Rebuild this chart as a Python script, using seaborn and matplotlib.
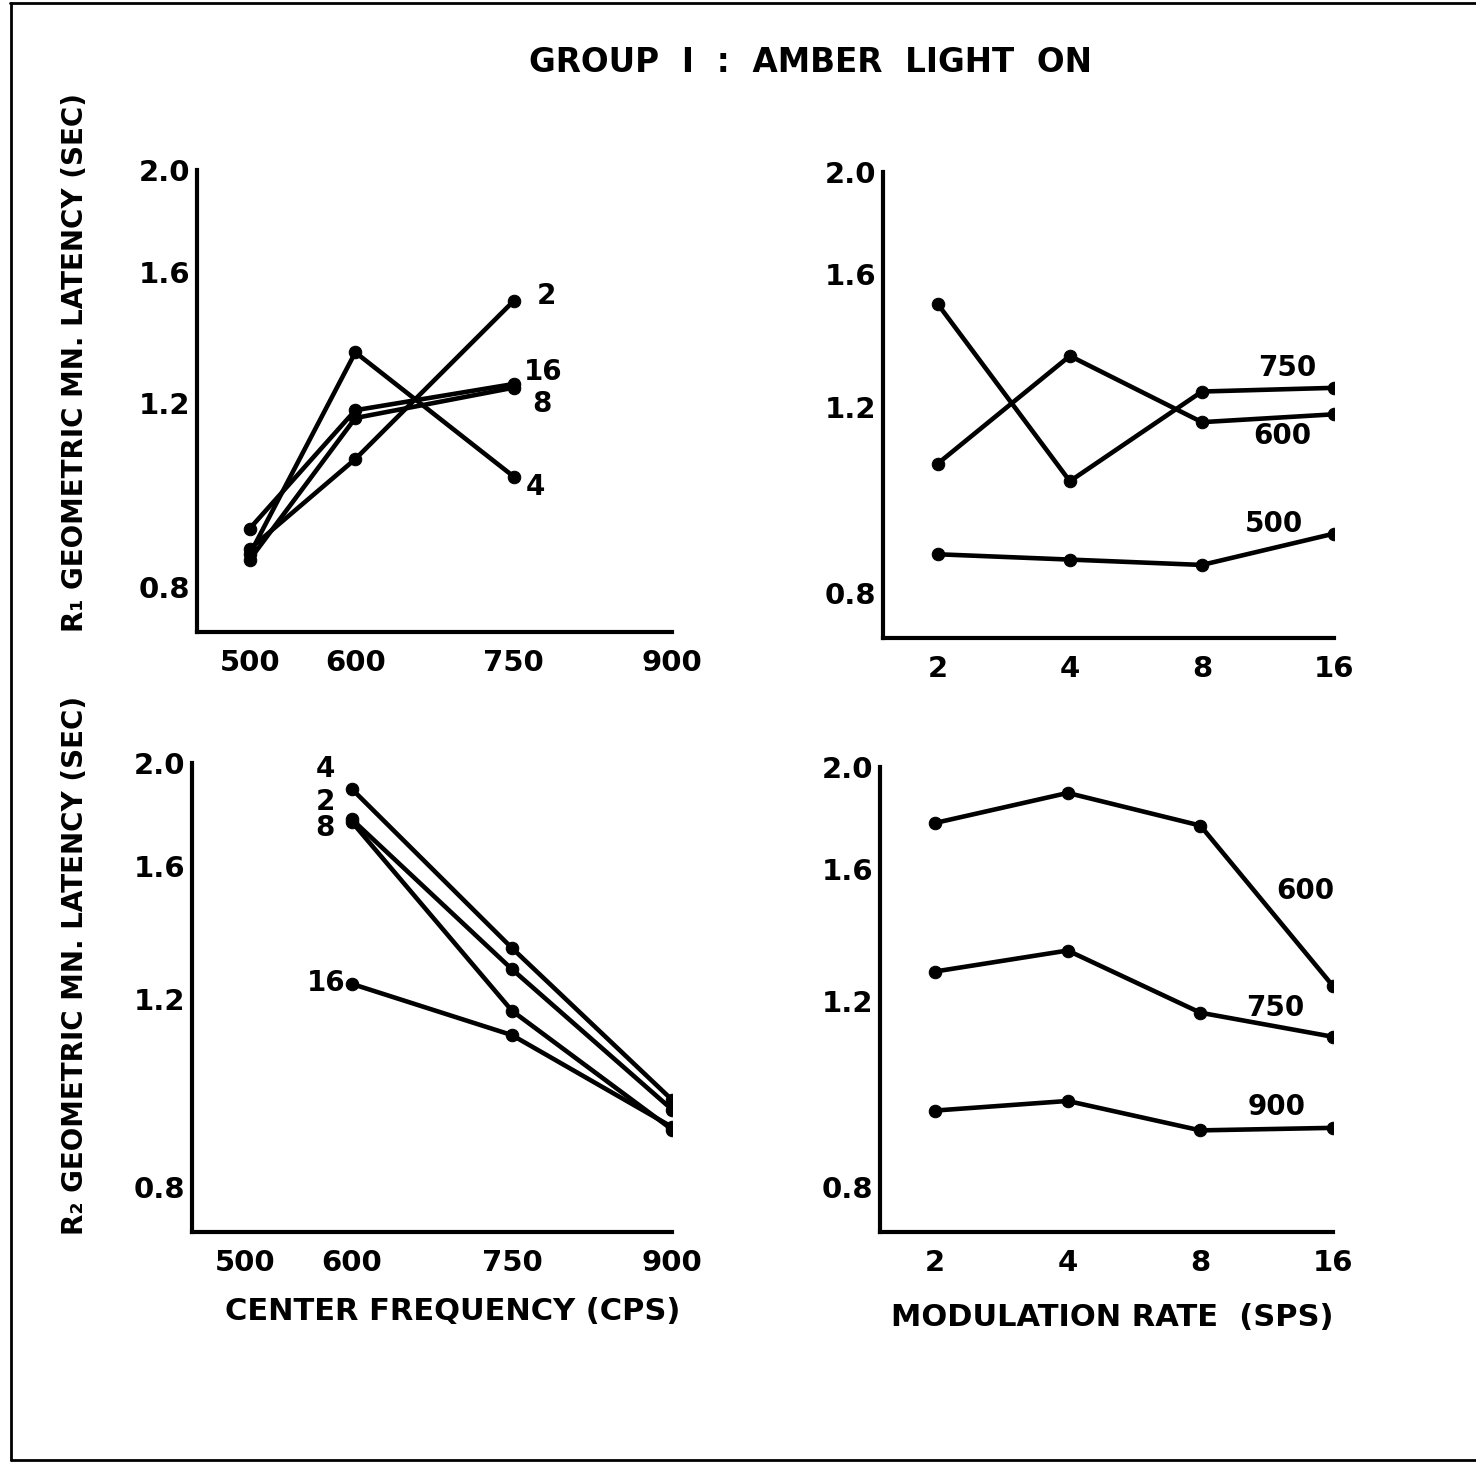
import numpy as np
import pandas as pd
import matplotlib
matplotlib.use("Agg")
import matplotlib.pyplot as plt
import seaborn as sns
from matplotlib.lines import Line2D
from matplotlib.ticker import NullLocator, FixedLocator, FixedFormatter

# ---------------- data ----------------
rates = [2, 4, 8, 16]
r1_freqs = [500, 600, 750]
r1_500 = [0.87, 0.86, 0.85, 0.91]
r1_600 = [1.06, 1.34, 1.16, 1.18]
r1_750 = [1.50, 1.02, 1.24, 1.25]

r2_freqs = [600, 750, 900]
r2_600 = [1.77, 1.89, 1.76, 1.24]
r2_750 = [1.28, 1.34, 1.17, 1.11]
r2_900 = [0.945, 0.965, 0.905, 0.91]

freq_ticks = [500, 600, 750, 900]
rate_ticks = [2, 4, 8, 16]
lat_ticks = [0.8, 1.2, 1.6, 2.0]
lat_labels = ["0.8", "1.2", "1.6", "2.0"]

title = "GROUP  I  :  AMBER  LIGHT  ON"
ylab1 = "R\u2081 GEOMETRIC MN. LATENCY (SEC)"
ylab2 = "R\u2082 GEOMETRIC MN. LATENCY (SEC)"
xlab_left = "CENTER FREQUENCY (CPS)"
xlab_right = "MODULATION RATE  (SPS)"


def long_df(freqs, series):
    rows = []
    for f, vals in zip(freqs, series):
        for r, v in zip(rates, vals):
            rows.append({"freq": f, "rate": r, "lat": v})
    return pd.DataFrame(rows)


df1 = long_df(r1_freqs, [r1_500, r1_600, r1_750])
df2 = long_df(r2_freqs, [r2_600, r2_750, r2_900])

# ---------------- style ----------------
sns.set_style("white")
plt.rcParams["font.family"] = ["DejaVu Sans"]
plt.rcParams["font.weight"] = "bold"
plt.rcParams["text.color"] = "black"
plt.rcParams["axes.labelcolor"] = "black"
plt.rcParams["xtick.color"] = "black"
plt.rcParams["ytick.color"] = "black"

W, H = 1476, 1464
fig = plt.figure(figsize=(W / 100, H / 100), dpi=100)
fig.patch.set_facecolor("white")


def box(l, t, r, b):
    return [l / W, 1 - b / H, (r - l) / W, (b - t) / H]


ax_tl = fig.add_axes(box(197, 170, 672, 632))
ax_tr = fig.add_axes(box(883, 172, 1334, 638))
ax_bl = fig.add_axes(box(192, 763, 672, 1232))
ax_br = fig.add_axes(box(880, 767, 1333, 1232))

LW = 3.3
MS = 9
TICKFS = 21
line_kws = dict(marker="o", markersize=MS, linewidth=LW, mec="black", mfc="black", legend=False)


def style_axis(ax):
    for s in ["top", "right"]:
        ax.spines[s].set_visible(False)
    for s in ["left", "bottom"]:
        ax.spines[s].set_linewidth(3)
        ax.spines[s].set_color("black")
    ax.set_yscale("log")
    ax.set_ylim(0.725, 2.0)
    ax.yaxis.set_major_locator(FixedLocator(lat_ticks))
    ax.yaxis.set_major_formatter(FixedFormatter(lat_labels))
    ax.yaxis.set_minor_locator(NullLocator())
    ax.tick_params(axis="both", direction="in", length=10, width=2.5, color="black",
                   labelsize=TICKFS, labelcolor="black")
    ax.tick_params(axis="y", pad=5)
    ax.tick_params(axis="x", pad=12)
    for lab in ax.get_xticklabels() + ax.get_yticklabels():
        lab.set_fontweight("bold")
    ax.set_xlabel("")
    ax.set_ylabel("")
    ax.set_facecolor("white")


# top-left: R1 vs frequency, one line per rate
sns.lineplot(data=df1, x="freq", y="lat", hue="rate", palette=["black"] * 4,
             ax=ax_tl, **line_kws)
ax_tl.set_xlim(450, 900)
style_axis(ax_tl)
ax_tl.set_xticks(freq_ticks)
ax_tl.set_xticklabels([str(v) for v in freq_ticks], fontweight="bold")

# top-right: R1 vs rate, one line per frequency
sns.lineplot(data=df1, x="rate", y="lat", hue="freq", palette=["black"] * 3,
             ax=ax_tr, **line_kws)
ax_tr.set_xscale("log", base=2)
ax_tr.set_xlim(1.5, 16)
style_axis(ax_tr)
ax_tr.xaxis.set_minor_locator(NullLocator())
ax_tr.set_xticks(rate_ticks)
ax_tr.set_xticklabels([str(v) for v in rate_ticks], fontweight="bold")

# bottom-left: R2 vs frequency
sns.lineplot(data=df2, x="freq", y="lat", hue="rate", palette=["black"] * 4,
             ax=ax_bl, **line_kws)
ax_bl.set_xlim(450, 900)
style_axis(ax_bl)
ax_bl.set_xticks(freq_ticks)
ax_bl.set_xticklabels([str(v) for v in freq_ticks], fontweight="bold")

# bottom-right: R2 vs rate
sns.lineplot(data=df2, x="rate", y="lat", hue="freq", palette=["black"] * 3,
             ax=ax_br, **line_kws)
ax_br.set_xscale("log", base=2)
ax_br.set_xlim(1.5, 16)
style_axis(ax_br)
ax_br.xaxis.set_minor_locator(NullLocator())
ax_br.set_xticks(rate_ticks)
ax_br.set_xticklabels([str(v) for v in rate_ticks], fontweight="bold")

LABFS = 20


def tag(ax, text, x, y, dx, dy):
    ax.annotate(text, xy=(x, y), xytext=(dx, dy), textcoords="offset pixels",
                ha="center", va="center", fontsize=LABFS, fontweight="bold",
                color="black")


# series labels, top-left (rate labels at 750 cps)
tag(ax_tl, "2", 750, r1_750[0], 33, 5)
tag(ax_tl, "4", 750, r1_750[1], 22, -10)
tag(ax_tl, "8", 750, r1_750[2], 28, -16)
tag(ax_tl, "16", 750, r1_750[3], 30, 12)

# top-right (frequency labels at 16 sps)
tag(ax_tr, "750", 16, r1_750[3], -47, 20)
tag(ax_tr, "600", 16, r1_600[3], -52, -22)
tag(ax_tr, "500", 16, r1_500[3], -60, 10)

# bottom-left (rate labels at 600 cps)
tag(ax_bl, "4", 600, r2_600[1], -27, 20)
tag(ax_bl, "2", 600, r2_600[0], -27, 17)
tag(ax_bl, "8", 600, r2_600[2], -27, -6)
tag(ax_bl, "16", 600, r2_600[3], -26, 1)

# bottom-right (frequency labels at 16 sps)
tag(ax_br, "600", 16, r2_600[3], -28, 95)
tag(ax_br, "750", 16, r2_750[3], -58, 29)
tag(ax_br, "900", 16, r2_900[3], -56, 21)

# figure texts
fig.text(810 / W, 1 - 63 / H, title, ha="center", va="center", fontsize=23.5,
         fontweight="bold", color="black")
fig.text(75 / W, 1 - 362 / H, ylab1, rotation=90, ha="center", va="center",
         fontsize=20, fontweight="bold", color="black")
fig.text(75 / W, 1 - 965 / H, ylab2, rotation=90, ha="center", va="center",
         fontsize=20, fontweight="bold", color="black")
fig.text(453 / W, 1 - 1312 / H, xlab_left, ha="center", va="center", fontsize=22,
         fontweight="bold", color="black")
fig.text(1112 / W, 1 - 1318 / H, xlab_right, ha="center", va="center", fontsize=22,
         fontweight="bold", color="black")

# scan-style frame
fig.add_artist(Line2D([10 / W, 1], [1 - 3 / H, 1 - 3 / H], color="black", lw=2))
fig.add_artist(Line2D([11 / W, 11 / W], [1 - 3 / H, 1 - 1460 / H], color="black", lw=2))
fig.add_artist(Line2D([11 / W, 1], [1 - 1460 / H, 1 - 1460 / H], color="black", lw=2))

fig.savefig("out.png", dpi=100, facecolor="white")
